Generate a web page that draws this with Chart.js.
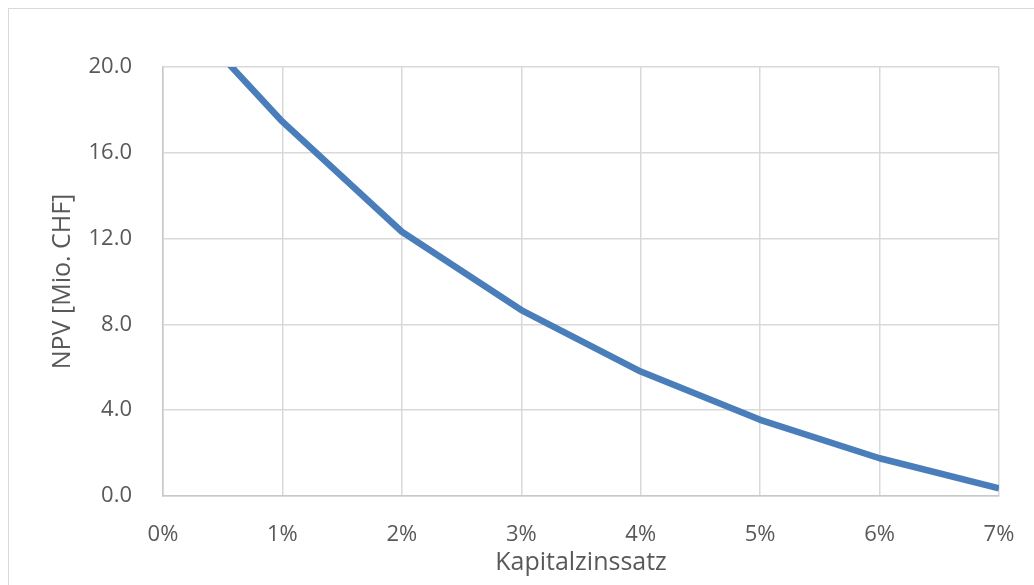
<!DOCTYPE html>
<html>
<head>
<meta charset="utf-8">
<script src="https://cdn.jsdelivr.net/npm/chart.js@4/dist/chart.umd.min.js"></script>
<style>
  html, body { margin: 0; padding: 0; background: #ffffff; }
  #wrap { position: relative; width: 1034px; height: 585px; overflow: hidden; }
  #frame { position: absolute; left: 8px; top: 8px; width: 1100px; height: 700px;
           border-top: 1.5px solid #d9d9d9; border-left: 1.5px solid #d9d9d9; box-sizing: border-box; }
  canvas { position: absolute; left: 0; top: 0; }
</style>
</head>
<body>
<div id="wrap">
  <div id="frame"></div>
  <canvas id="c" width="1034" height="585"></canvas>
</div>
<script>
// Discount rate (as fraction) and resulting net present value in Mio. CHF
const rates = [0.00, 0.01, 0.02, 0.03, 0.04, 0.05, 0.06, 0.07];
const npv = [23.45, 17.45, 12.32, 8.67, 5.80, 3.55, 1.76, 0.36];
const yTicks = [0, 4, 8, 12, 16, 20];
const xTitle = 'Kapitalzinssatz';
const yTitle = 'NPV [Mio. CHF]';

const FONT = "'Open Sans', 'Noto Sans', sans-serif";
const TEXT = '#595959';
const GRID = '#d9d9d9';

new Chart(document.getElementById('c'), {
  type: 'line',
  data: {
    datasets: [{
      data: rates.map((r, i) => ({ x: r, y: npv[i] })),
      borderColor: '#4a7ebb',
      borderWidth: 6.5,
      borderJoinStyle: 'round',
      borderCapStyle: 'butt',
      pointRadius: 0,
      tension: 0,
      clip: 0
    }]
  },
  options: {
    responsive: false,
    animation: false,
    layout: { padding: { top: 67, right: 35, left: 0, bottom: 0 } },
    plugins: { legend: { display: false }, tooltip: { enabled: false } },
    scales: {
      x: {
        type: 'linear',
        min: 0, max: 0.07,
        // fixed axis band; edge labels may overhang into the layout padding
        afterFit: s => { s.height = 89; s.paddingLeft = 0; s.paddingRight = 0; },
        afterBuildTicks: s => { s.ticks = rates.map(v => ({ value: v })); },
        ticks: {
          padding: 26,
          color: TEXT,
          font: { family: FONT, size: 22 },
          callback: v => Math.round(v * 100) + '%',
          maxRotation: 0
        },
        grid: { color: GRID, lineWidth: 1.5, drawTicks: false },
        border: { color: '#c8c8c8', width: 1.5 },
        title: {
          display: true, text: xTitle, color: TEXT,
          font: { family: FONT, size: 25 },
          padding: { top: 0, bottom: 7 }
        }
      },
      y: {
        min: 0, max: 20,
        afterFit: s => { s.width = 163; s.paddingTop = 0; s.paddingBottom = 0; },
        afterBuildTicks: s => { s.ticks = yTicks.map(v => ({ value: v })); },
        ticks: {
          padding: 31,
          color: TEXT,
          font: { family: FONT, size: 22 },
          callback: v => v.toFixed(1)
        },
        grid: { color: GRID, lineWidth: 1.5, drawTicks: false },
        border: { color: '#c8c8c8', width: 1.5 },
        title: {
          display: true, text: yTitle, color: TEXT,
          font: { family: FONT, size: 25 },
          padding: { top: 48, bottom: 0 }
        }
      }
    }
  }
});
</script>
</body>
</html>
